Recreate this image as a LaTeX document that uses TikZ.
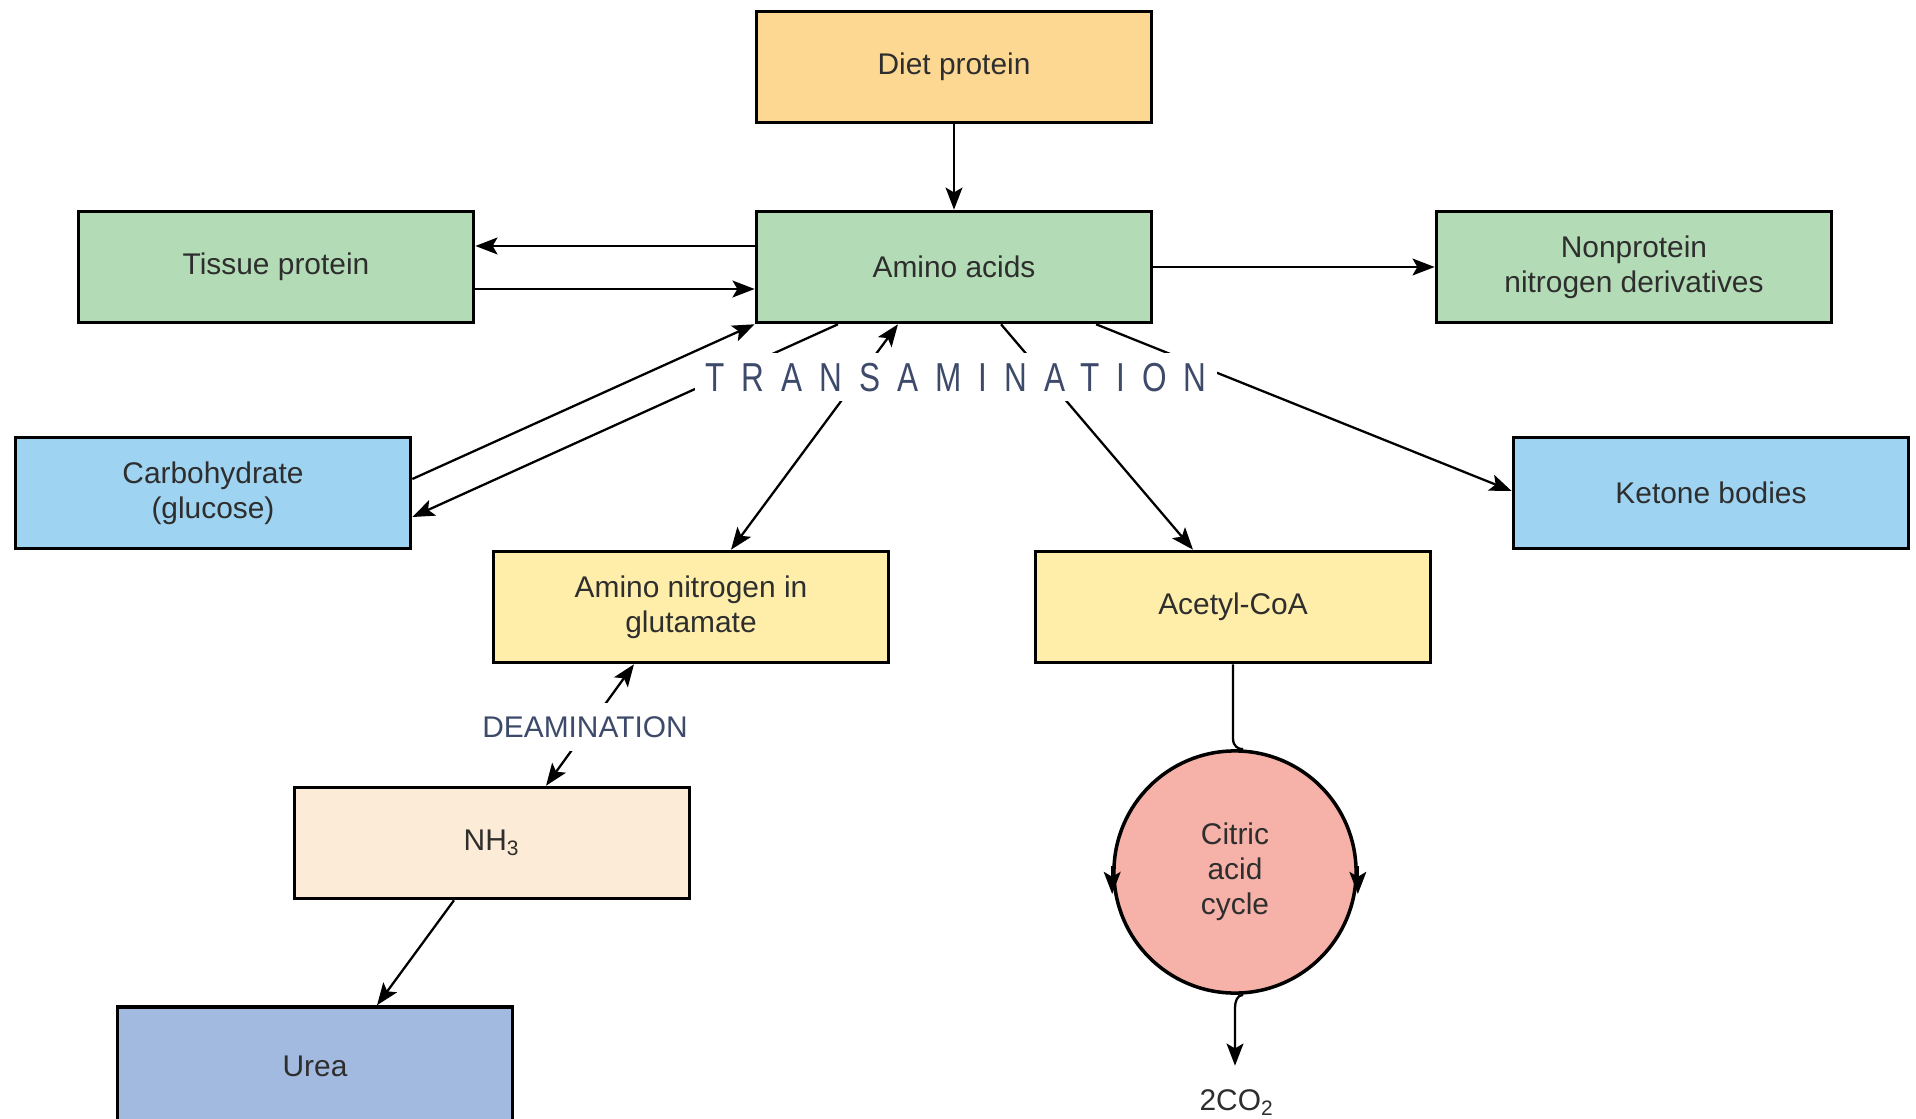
\documentclass[tikz,border=0pt]{standalone}
\usepackage{fontspec}
\setmainfont{Liberation Sans}
\newfontfamily\transfont[FakeStretch=0.78,LetterSpace=42]{Liberation Sans}
\usetikzlibrary{arrows.meta,calc}
\definecolor{dietc}{HTML}{FDD892}
\definecolor{greenc}{HTML}{B3DCB6}
\definecolor{bluec}{HTML}{9ED3F1}
\definecolor{yellowc}{HTML}{FFEEAA}
\definecolor{nhc}{HTML}{FCEBD6}
\definecolor{ureac}{HTML}{A2BAE0}
\definecolor{citc}{HTML}{F6B2A8}
\definecolor{txt}{HTML}{2E2E2E}
\definecolor{labc}{HTML}{3D4A6A}
\begin{document}
\begin{tikzpicture}[x=0.01cm,y=-0.01cm,
  box/.style={draw, line width=1pt, minimum width=3.95cm, minimum height=1.11cm,
    inner sep=2pt, align=center, font=\fontsize{8.5pt}{10pt}\selectfont, text=txt},
  tip/.tip={Stealth[length=6.3pt,width=4.8pt,inset=1.4pt]},
  arr/.style={line width=0.65pt, -tip},
  darr/.style={line width=0.65pt, tip-tip},
  plain/.style={line width=0.65pt},
  lab/.style={fill=white, text=labc}]
\useasboundingbox (0,0) rectangle (1916,1119);
\clip (0,0) rectangle (1916,1119);
\fill[white] (0,0) rectangle (1916,1119);

% boxes
\node[box, fill=dietc] (diet) at (954,67) {Diet protein};
\node[box, fill=greenc] (amino) at (954,267) {Amino acids};
\node[box, fill=greenc] (tissue) at (276,267) {Tissue protein};
\node[box, fill=greenc] (nonprot) at (1634,267) {Nonprotein\\nitrogen derivatives};
\node[box, fill=bluec] (carb) at (213,493) {Carbohydrate\\(glucose)};
\node[box, fill=bluec] (ketone) at (1711,493) {Ketone bodies};
\node[box, fill=yellowc] (glut) at (691,607) {Amino nitrogen in\\glutamate};
\node[box, fill=yellowc] (acetyl) at (1233,607) {Acetyl-CoA};
\node[box, fill=nhc] (nh3) at (492,843) {NH\textsubscript{3}};
\node[box, fill=ureac, minimum height=1.18cm] (urea) at (315,1066) {Urea};
\node[circle, draw, line width=1pt, fill=citc, minimum size=2.42cm, inner sep=0pt,
  align=center, font=\fontsize{8.5pt}{10pt}\selectfont, text=txt] (cit) at (1235,872) {Citric\\acid\\cycle};
\node[font=\fontsize{8.5pt}{10pt}\selectfont, text=txt] (co2) at (1237,1103) {2CO\textsubscript{2}};

% connectors
\draw[arr] (diet) -- (amino);
\draw[arr] ([yshift=0.21cm]amino.west) -- ([yshift=0.21cm]tissue.east);
\draw[arr] ([yshift=-0.22cm]tissue.east) -- ([yshift=-0.22cm]amino.west);
\draw[arr] (amino.east) -- (nonprot.west);
\draw[arr] ([yshift=0.14cm]carb.east) -- (amino.south west);
\draw[arr] ([xshift=-1.16cm]amino.south) -- ([yshift=-0.24cm]carb.east);
\draw[darr] ([xshift=0.40cm]glut.north) -- ([xshift=-0.56cm]amino.south);
\draw[arr] ([xshift=0.47cm]amino.south) -- ([xshift=-0.40cm]acetyl.north);
\draw[arr] ([xshift=1.42cm]amino.south) -- ([yshift=0.02cm]ketone.west);
\draw[darr] ([xshift=-0.57cm]glut.south) -- ([xshift=0.54cm]nh3.north);
\draw[arr] ([xshift=-0.38cm]nh3.south) -- ([xshift=0.62cm]urea.north);

% citric acid cycle
\coordinate (ctop) at ([yshift=-0.74cm]acetyl.south);
\draw[plain] (acetyl.south) -- (ctop) .. controls +(0,8) and +(-5,0) .. ([xshift=0.08cm]cit.north);
\coordinate (cbend) at ([yshift=-0.13cm]cit.south);
\draw[arr] ([xshift=0.08cm]cit.south) .. controls +(-6,0) and +(0,-6) .. (cbend) -- ($(cbend |- co2.north)+(0,-12)$);
\draw[arr] ([yshift=0.06cm]cit.west) -- ([yshift=-0.22cm]cit.west);
\draw[arr] ([yshift=0.06cm]cit.east) -- ([yshift=-0.22cm]cit.east);

% labels over lines
\node[lab, font=\transfont\fontsize{11.5pt}{12pt}\selectfont, text height=8.3pt, text depth=0pt,
  inner xsep=3pt, inner ysep=2.7pt] (trans) at (956,377) {TRANSAMINATION};
\node[lab, font=\fontsize{8.5pt}{10pt}\selectfont, text height=6.1pt, text depth=0pt,
  inner xsep=2pt, inner ysep=3.7pt] (deam) at (585,727) {DEAMINATION};
\end{tikzpicture}
\end{document}
